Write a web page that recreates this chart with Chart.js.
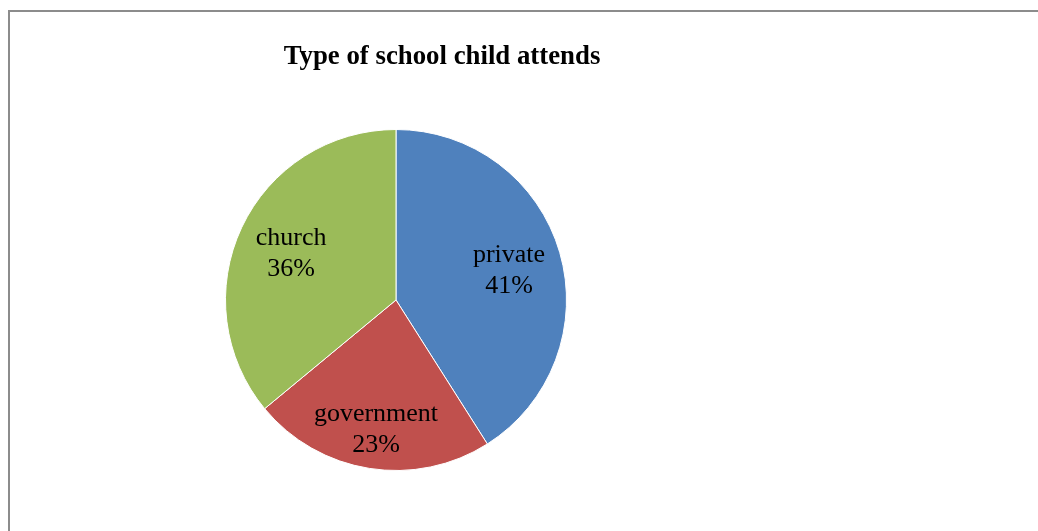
<!DOCTYPE html>
<html>
<head>
<meta charset="utf-8">
<script src="https://cdn.jsdelivr.net/npm/chart.js@4.4.0/dist/chart.umd.min.js"></script>
<style>
  html, body { margin: 0; padding: 0; background: #fff; }
  .wrap { position: relative; width: 1038px; height: 531px; overflow: hidden; }
  .frame {
    position: absolute; left: 8px; top: 10px; width: 1100px; height: 600px;
    border-left: 2px solid #8c8c8c; border-top: 2px solid #8c8c8c;
  }
  canvas { position: absolute; left: 0; top: 0; }
</style>
</head>
<body>
<div class="wrap">
  <div class="frame"></div>
  <canvas id="pie" width="1038" height="531"></canvas>
</div>
<script>
// chart data
const chartTitle = 'Type of school child attends';
const categories = ['private', 'government', 'church'];
const shares = [41, 23, 36];
const sliceColors = ['#4F81BD', '#C0504D', '#9BBB59'];

const serif = '"Liberation Serif", "Times New Roman", serif';
// how far out (fraction of radius) each slice label sits
const labelReach = [0.69, 0.75, 0.68];

// title is drawn off-centre from the pie, like the original
const titlePlugin = {
  id: 'offsetTitle',
  afterDraw(chart) {
    const ctx = chart.ctx;
    ctx.save();
    ctx.font = 'bold 26.8px ' + serif;
    ctx.fillStyle = '#000';
    ctx.textAlign = 'center';
    ctx.textBaseline = 'alphabetic';
    ctx.fillText(chartTitle, 442, 64);
    ctx.restore();
  }
};

// category + percent labels inside each slice
const sliceLabels = {
  id: 'sliceLabels',
  afterDatasetsDraw(chart) {
    const ctx = chart.ctx;
    const meta = chart.getDatasetMeta(0);
    const total = shares.reduce((a, b) => a + b, 0);
    ctx.save();
    ctx.font = '26px ' + serif;
    ctx.fillStyle = '#000';
    ctx.textAlign = 'center';
    ctx.textBaseline = 'middle';
    meta.data.forEach((arc, i) => {
      const p = arc.getProps(['x', 'y', 'startAngle', 'endAngle', 'outerRadius'], true);
      const mid = (p.startAngle + p.endAngle) / 2;
      const r = p.outerRadius * labelReach[i];
      const cx = p.x + Math.cos(mid) * r;
      const cy = p.y + Math.sin(mid) * r + 3;
      const pct = Math.round(shares[i] / total * 100) + '%';
      ctx.fillText(categories[i], cx, cy - 15.5);
      ctx.fillText(pct, cx, cy + 15.5);
    });
    ctx.restore();
  }
};

new Chart(document.getElementById('pie').getContext('2d'), {
  type: 'pie',
  data: {
    labels: categories,
    datasets: [{
      data: shares,
      backgroundColor: sliceColors,
      borderColor: '#ffffff',
      borderWidth: 1
    }]
  },
  options: {
    responsive: false,
    animation: false,
    layout: {
      padding: { top: 129, bottom: 60, left: 225, right: 471 }
    },
    plugins: {
      legend: { display: false },
      title: { display: false },
      tooltip: { enabled: false }
    }
  },
  plugins: [titlePlugin, sliceLabels]
});
</script>
</body>
</html>
